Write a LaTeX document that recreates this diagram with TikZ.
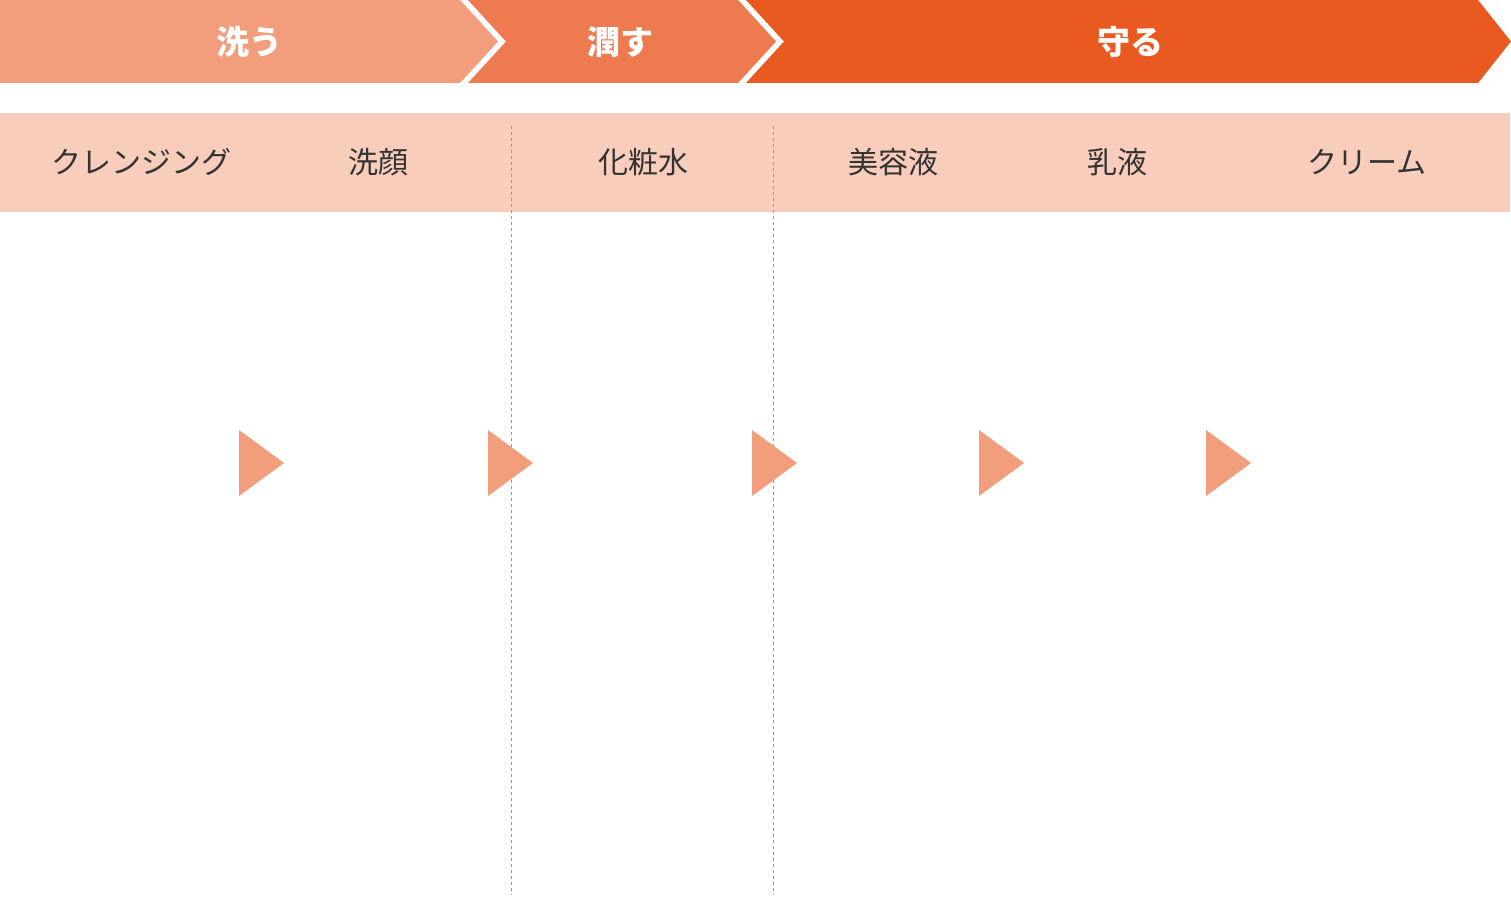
\documentclass[tikz,border=0pt]{standalone}
\usepackage{fontspec}
\newfontfamily\jp{Noto Sans CJK JP}
\definecolor{washc}{HTML}{F29D7B}
\definecolor{moistc}{HTML}{EE7B50}
\definecolor{guardc}{HTML}{E95A20}
\definecolor{bandc}{HTML}{F8CDBB}
\definecolor{inkc}{HTML}{333333}
\begin{document}
\begin{tikzpicture}
  [x=1pt,y=-1pt,every node/.style={inner sep=0pt},
   phase/.style={text=white,font=\jp\bfseries\fontsize{33}{35}\selectfont},
   item/.style={text=inkc,font=\jp\fontsize{30}{32}\selectfont},
   sep/.style={draw=gray!80,line width=1pt,dash pattern=on 3pt off 3pt}]
  \useasboundingbox (0,0) rectangle (1511,909);
  % banner
  \fill[washc] (0,0) -- (460,0) -- (498,41.5) -- (460,83) -- (0,83) -- cycle;
  \fill[moistc] (468,0) -- (738,0) -- (776,41.5) -- (738,83) -- (468,83) -- (506,41.5) -- cycle;
  \fill[guardc] (746,0) -- (1478,0) -- (1511,41.5) -- (1478,83) -- (746,83) -- (784,41.5) -- cycle;
  \node (wash)[phase] at (249,42) {洗う};
  \node (moist)[phase] at (620,42) {潤す};
  \node (guard)[phase] at (1130,42) {守る};
  % band
  \fill[bandc] (0,113) rectangle (1510,212);
  \foreach \x in {511,773}
    \draw[sep] (\x,126) -- (\x,895);
  \foreach \name/\x/\txt in {cleansing/141/クレンジング,face/378/洗顔,lotion/643/化粧水,
      serum/893/美容液,milk/1117/乳液,cream/1367/クリーム}
    \node (\name)[item] at (\x,162) {\txt};
  % arrows
  \foreach \x in {239,488,752,979,1206}
    \fill[washc] (\x,430) -- (\x+45,463) -- (\x,496) -- cycle;
\end{tikzpicture}
\end{document}
